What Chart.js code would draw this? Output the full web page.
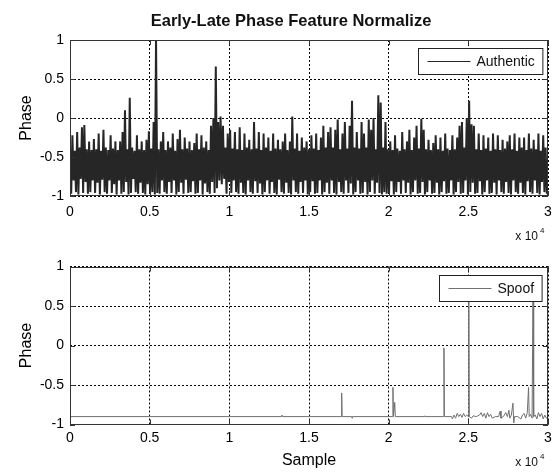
<!DOCTYPE html>
<html>
<head>
<meta charset="utf-8">
<script src="https://cdn.jsdelivr.net/npm/chart.js@4"></script>
<style>
  html, body { margin: 0; padding: 0; background: #fff; }
  #wrap { position: relative; width: 553px; height: 472px; }
  canvas { position: absolute; left: 0; }
  #topChart { top: 0; }
  #bottomChart { top: 245px; }
</style>
</head>
<body>
<div id="wrap">
  <canvas id="topChart" width="553" height="245"></canvas>
  <canvas id="bottomChart" width="553" height="227"></canvas>
</div>
<script>
const chartTitle = 'Early-Late Phase Feature Normalize';
const xTicks = [0, 5000, 10000, 15000, 20000, 25000, 30000];
const yTicks = [-1, -0.5, 0, 0.5, 1];
const colStep = 150; // samples covered by one envelope column

// Authentic: upper / lower envelope of the dense signal, one pair per column
const authHigh = [
  -0.40, -0.22, -0.42, -0.18, -0.38, -0.12, -0.09, -0.40, -0.30, -0.41,
  -0.27, -0.40, -0.20, -0.42, -0.15, -0.38, -0.41, -0.22, -0.39, -0.30,
  -0.41, -0.30, -0.18, 0.10, -0.40, 0.26, -0.38, -0.42, -0.22, -0.40,
  -0.30, -0.41, -0.28, -0.17, -0.39, -0.05, 1.00, -0.40, -0.30, -0.18,
  -0.41, -0.30, -0.38, -0.20, -0.42, -0.27, -0.15, -0.40, -0.25, -0.39,
  -0.30, -0.41, -0.32, -0.20, -0.40, -0.22, -0.38, -0.30, -0.41, -0.10,
  0.00, 0.66, -0.05, 0.02, -0.10, -0.38, -0.20, -0.15, -0.39, -0.18,
  -0.40, -0.12, -0.41, -0.20, -0.38, -0.28, -0.40, -0.05, -0.39, -0.18,
  -0.41, -0.20, -0.38, -0.25, -0.42, -0.20, -0.39, -0.28, -0.40, -0.30,
  -0.20, -0.41, -0.30, 0.02, -0.39, -0.20, -0.42, -0.25, -0.38, -0.30,
  -0.40, -0.22, -0.39, -0.20, -0.41, -0.25, -0.10, -0.38, -0.18, -0.12,
  -0.38, -0.15, -0.02, -0.40, -0.20, -0.05, -0.39, -0.10, 0.22, -0.38,
  -0.18, -0.39, -0.05, -0.20, -0.38, -0.02, -0.15, 0.00, -0.40, 0.29,
  0.20, -0.38, -0.05, -0.40, -0.30, -0.41, -0.22, -0.39, -0.42, -0.18,
  -0.40, -0.30, -0.15, -0.41, -0.25, -0.10, -0.39, -0.01, -0.15, -0.40,
  -0.28, -0.41, -0.32, -0.22, -0.40, -0.25, -0.42, -0.20, -0.39, -0.41,
  -0.22, -0.40, -0.25, -0.10, -0.05, -0.38, 0.00, 0.22, -0.08, -0.10,
  -0.40, -0.20, -0.41, -0.22, -0.39, -0.25, -0.42, -0.20, -0.40, -0.22,
  -0.41, -0.28, -0.39, -0.30, -0.22, -0.40, -0.20, -0.42, -0.25, -0.38,
  -0.25, -0.41, -0.20, -0.39, -0.28, -0.40, -0.20, -0.42, -0.22, -0.38
];
const authLow = [
  -0.97, -0.80, -0.95, -0.98, -0.78, -0.96, -0.82, -0.97, -0.95, -0.80,
  -0.96, -0.83, -0.98, -0.79, -0.95, -0.97, -0.80, -0.96, -0.85, -0.98,
  -0.80, -0.97, -0.95, -0.82, -0.98, -0.96, -0.78, -0.95, -0.97, -0.83,
  -0.96, -0.98, -0.85, -0.97, -0.95, -0.98, -0.96, -0.97, -0.80, -0.95,
  -0.97, -0.82, -0.96, -0.80, -0.98, -0.95, -0.83, -0.97, -0.79, -0.96,
  -0.95, -0.81, -0.97, -0.96, -0.80, -0.98, -0.84, -0.95, -0.97, -0.82,
  -0.96, -0.90, -0.80, -0.85, -0.78, -0.97, -0.82, -0.96, -0.80, -0.95,
  -0.97, -0.83, -0.96, -0.98, -0.80, -0.95, -0.97, -0.81, -0.96, -0.84,
  -0.98, -0.95, -0.80, -0.97, -0.82, -0.96, -0.98, -0.79, -0.95, -0.97,
  -0.83, -0.96, -0.98, -0.80, -0.95, -0.97, -0.82, -0.96, -0.80, -0.98,
  -0.95, -0.81, -0.97, -0.96, -0.80, -0.98, -0.95, -0.83, -0.97, -0.80,
  -0.96, -0.98, -0.82, -0.95, -0.97, -0.80, -0.96, -0.84, -0.98, -0.95,
  -0.80, -0.97, -0.96, -0.82, -0.98, -0.95, -0.80, -0.97, -0.83, -0.96,
  -0.98, -0.95, -0.97, -0.96, -0.81, -0.98, -0.95, -0.82, -0.97, -0.80,
  -0.96, -0.83, -0.98, -0.95, -0.80, -0.97, -0.96, -0.82, -0.98, -0.95,
  -0.80, -0.97, -0.96, -0.83, -0.98, -0.95, -0.81, -0.97, -0.96, -0.80,
  -0.98, -0.95, -0.82, -0.97, -0.96, -0.80, -0.98, -0.95, -0.83, -0.97,
  -0.96, -0.81, -0.98, -0.95, -0.80, -0.97, -0.96, -0.83, -0.98, -0.80,
  -0.95, -0.97, -0.82, -0.96, -0.98, -0.80, -0.95, -0.97, -0.83, -0.96,
  -0.98, -0.81, -0.95, -0.97, -0.80, -0.96, -0.98, -0.82, -0.95, -0.97
];

// Spoof: sample index / phase
const spoofX = [
  0, 13250, 13300, 13350, 17020, 17050, 17080, 17680, 17700, 17720,
  20240, 20270, 20300, 20380, 20420, 22260, 22280, 22300, 23440, 23470,
  23500, 23950, 24000, 24100, 24200, 24300, 24400, 24500, 24600, 24700,
  24800, 24900, 25000, 25030, 25060, 25200, 25300, 25500, 25700, 25800,
  25900, 26000, 26100, 26200, 26300, 26400, 26500, 26700, 26900, 27000,
  27050, 27200, 27350, 27450, 27550, 27600, 27700, 27800, 27850, 27900,
  28100, 28300, 28400, 28500, 28600, 28700, 28780, 28820, 28900, 29000,
  29060, 29100, 29200, 29300, 29400, 29500, 29600, 29700, 29800, 29900,
  30000
];
const spoofY = [
  -0.90, -0.90, -0.88, -0.90, -0.90, -0.60, -0.90, -0.90, -0.92, -0.90,
  -0.90, -0.53, -0.90, -0.72, -0.90, -0.90, -0.89, -0.90, -0.90, -0.03,
  -0.90, -0.90, -0.93, -0.88, -0.92, -0.86, -0.90, -0.87, -0.91, -0.86,
  -0.90, -0.88, -0.90, 0.70, -0.90, -0.92, -0.89, -0.90, -0.88, -0.85,
  -0.90, -0.86, -0.92, -0.85, -0.90, -0.87, -0.92, -0.90, -0.90, -0.83,
  -0.92, -0.90, -0.85, -0.90, -0.82, -0.92, -0.88, -0.73, -0.98, -0.90,
  -0.90, -0.93, -0.88, -0.86, -0.92, -0.85, -0.53, -0.90, -0.87, -0.92,
  0.70, -0.90, -0.88, -0.93, -0.85, -0.90, -0.86, -0.93, -0.88, -0.92,
  -0.90
];

const fontFamily = '"Liberation Sans", Arial, Helvetica, sans-serif';

const authPoints = [];
authHigh.forEach((h, i) => {
  authPoints.push({ x: i * colStep, y: h });
  authPoints.push({ x: i * colStep + colStep / 2, y: authLow[i] });
});
const spoofPoints = spoofX.map((x, i) => ({ x: x, y: spoofY[i] }));

// box, inner ticks, legend, exponent and title in MATLAB style
const matlabFrame = {
  id: 'matlabFrame',
  afterDraw(chart, args, opts) {
    const { ctx, chartArea: a, scales: { x, y } } = chart;
    ctx.save();
    ctx.strokeStyle = '#333';
    ctx.lineWidth = 1;
    ctx.beginPath();
    xTicks.forEach(v => {
      const px = Math.round(x.getPixelForValue(v)) + 0.5;
      ctx.moveTo(px, a.bottom); ctx.lineTo(px, a.bottom - 5);
      ctx.moveTo(px, a.top); ctx.lineTo(px, a.top + 5);
    });
    yTicks.forEach(v => {
      const py = Math.round(y.getPixelForValue(v)) + 0.5;
      ctx.moveTo(a.left, py); ctx.lineTo(a.left + 5, py);
      ctx.moveTo(a.right, py); ctx.lineTo(a.right - 5, py);
    });
    ctx.stroke();
    ctx.strokeRect(Math.round(a.left) + 0.5, Math.round(a.top) + 0.5,
                   Math.round(a.width) - 1, Math.round(a.height) - 1);

    // legend inside the axes, top right
    const ds = chart.data.datasets[0];
    ctx.font = '14px ' + fontFamily;
    const tw = ctx.measureText(ds.label).width;
    const boxW = 9 + 43 + 6 + tw + 8;
    const boxH = 26;
    const bx = Math.round(a.right - 6 - boxW) + 0.5;
    const by = Math.round(a.top + 8) + 0.5;
    ctx.fillStyle = '#fff';
    ctx.fillRect(bx, by, boxW, boxH);
    ctx.strokeStyle = '#222';
    ctx.strokeRect(bx, by, boxW, boxH);
    ctx.strokeStyle = ds.borderColor;
    ctx.lineWidth = 1;
    ctx.beginPath();
    ctx.moveTo(bx + 9, by + boxH / 2);
    ctx.lineTo(bx + 52, by + boxH / 2);
    ctx.stroke();
    ctx.fillStyle = '#111';
    ctx.textAlign = 'left';
    ctx.textBaseline = 'middle';
    ctx.fillText(ds.label, bx + 58, by + boxH / 2 + 1);

    // x 10^4 multiplier
    ctx.textAlign = 'right';
    ctx.font = '12px ' + fontFamily;
    ctx.fillText('x 10', a.right - 10, a.bottom + opts.expOffset);
    ctx.textAlign = 'left';
    ctx.font = '8px ' + fontFamily;
    ctx.fillText('4', a.right - 8, a.bottom + opts.expOffset - 6);

    if (opts.title) {
      ctx.textAlign = 'center';
      ctx.font = 'bold 16.5px ' + fontFamily;
      ctx.fillText(opts.title, 291, 21);
    }
    ctx.restore();
  }
};

function makeChart(id, dataset, cfg) {
  const ctx = document.getElementById(id).getContext('2d');
  return new Chart(ctx, {
    type: 'line',
    data: { datasets: [dataset] },
    options: {
      responsive: false,
      animation: false,
      events: [],
      devicePixelRatio: 1,
      layout: { padding: { top: cfg.padTop, right: 5, left: 0, bottom: 0 } },
      elements: { point: { radius: 0 }, line: { tension: 0 } },
      plugins: {
        legend: { display: false },
        title: { display: false },
        tooltip: { enabled: false },
        matlabFrame: { title: cfg.title, expOffset: cfg.expOffset }
      },
      scales: {
        x: {
          type: 'linear',
          min: 0,
          max: 30000,
          afterBuildTicks: s => { s.ticks = xTicks.map(v => ({ value: v })); },
          afterFit: s => { s.height = cfg.xHeight; },
          ticks: {
            padding: 0,
            color: '#000',
            font: { family: fontFamily, size: 14 },
            maxRotation: 0,
            callback: v => String(v / 10000)
          },
          grid: { color: '#000', lineWidth: 1, drawTicks: true, tickLength: cfg.xPad, tickColor: 'rgba(0,0,0,0)' },
          border: { display: false, dash: [2, 2] },
          title: {
            display: !!cfg.xTitle,
            text: cfg.xTitle || '',
            color: '#000',
            font: { family: fontFamily, size: 16 },
            padding: { top: 0, bottom: 2 }
          }
        },
        y: {
          min: -1,
          max: 1,
          afterBuildTicks: s => { s.ticks = yTicks.map(v => ({ value: v })); },
          afterFit: s => { s.width = 70; },
          ticks: {
            padding: 6,
            color: '#000',
            font: { family: fontFamily, size: 14 },
            callback: v => String(v)
          },
          grid: { color: '#000', lineWidth: 1, drawTicks: false },
          border: { display: false, dash: [2, 2] },
          title: {
            display: true,
            text: 'Phase',
            color: '#000',
            font: { family: fontFamily, size: 16 },
            padding: { top: 17, bottom: 0 }
          }
        }
      }
    },
    plugins: [matlabFrame]
  });
}

makeChart('topChart', {
  label: 'Authentic',
  data: authPoints,
  borderColor: '#262626',
  borderWidth: 2,
  fill: false
}, { padTop: 40, xHeight: 49, xPad: 8, expOffset: 41, title: chartTitle });

makeChart('bottomChart', {
  label: 'Spoof',
  data: spoofPoints,
  borderColor: '#707070',
  borderWidth: 1,
  fill: false
}, { padTop: 21.5, xHeight: 47.5, xPad: 5, expOffset: 38, xTitle: 'Sample' });
</script>
</body>
</html>
